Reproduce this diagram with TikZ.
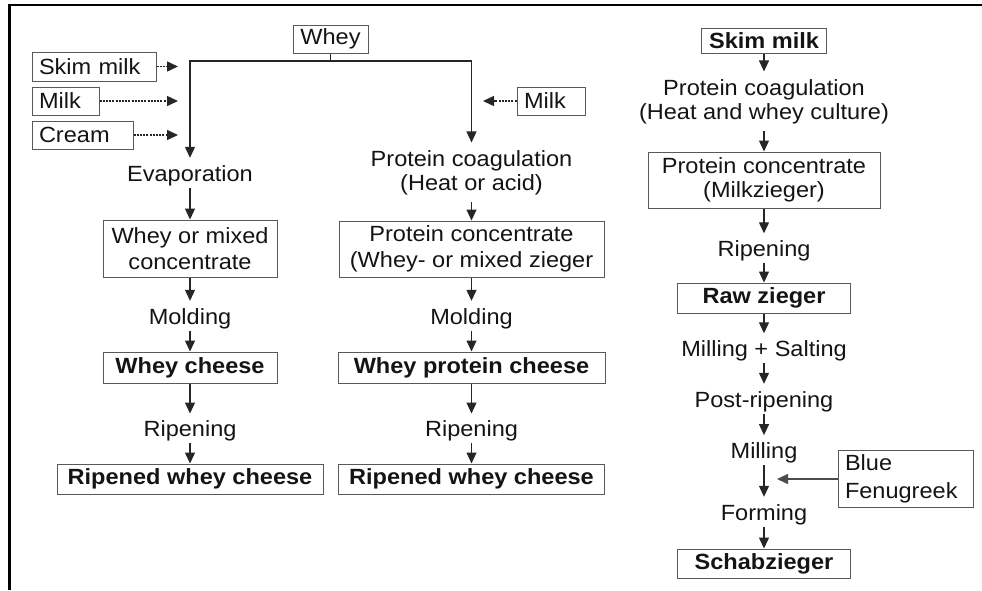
\documentclass[tikz,border=0pt]{standalone}
\usepackage{fontspec}
\setmainfont{Liberation Sans}[FakeStretch=1.07]
\usetikzlibrary{arrows.meta}
\begin{document}
\begin{tikzpicture}[x=1pt,y=-1pt,
  font=\fontsize{22}{24}\selectfont, text=black!92,
  lbl/.style={inner sep=0pt, text height=23pt, text depth=6.5pt, anchor=base},
  lbltwo/.style={inner xsep=0pt, inner ysep=7.5pt, align=center},
  box/.style={draw=black!65, line width=1pt, inner sep=0pt, align=center, font=\fontsize{22}{25.5}\selectfont},
  bbox/.style={box, font=\fontsize{22}{24}\selectfont\bfseries},
  inbox/.style={draw=black!65, line width=1pt, inner xsep=7pt, inner ysep=0pt, align=left},
  arr/.style={draw=black!85, line width=1.2pt, -{Triangle[length=11pt,width=10pt]}},
  darr/.style={arr, line width=1.5pt, dash pattern=on 2pt off 1.2pt}]
\useasboundingbox (0,0) rectangle (982,590);
% frame
\draw[line width=2.3pt] (9.5,590) -- (9.5,5) -- (982,5);

% top
\node[box, minimum width=75pt, minimum height=28pt] (whey) at (330.5,39) {Whey};
\coordinate (split) at (330.5,61);

% inputs
\node[inbox, text width=110pt, minimum height=29pt] (skim1) at (94,66.5) {Skim milk};
\node[inbox, text width=53pt, minimum height=28pt] (milk1) at (65.5,101) {Milk};
\node[inbox, text width=87pt, minimum height=28pt] (cream) at (82.5,135) {Cream};
\node[inbox, text width=54pt, minimum height=28pt] (milk2) at (551,101) {Milk};
\coordinate (s1) at (178,66.5);
\coordinate (s2) at (178,101);
\coordinate (s3) at (178,135);
\coordinate (s4) at (483,101);

% left column
\node[lbl] (evap) at (190,181) {Evaporation};
\node[box, minimum width=174pt, minimum height=57pt] (conc1) at (190,248.5) {Whey or mixed\\concentrate};
\node[lbl] (mold1) at (190,324) {Molding};
\node[bbox, minimum width=174pt, minimum height=31pt] (wc) at (190,367.5) {Whey cheese};
\node[lbl] (rip1) at (190,436.7) {Ripening};
\node[bbox, minimum width=266pt, minimum height=30pt] (rwc1) at (190,479) {Ripened whey cheese};

% middle column
\node[lbltwo] (pc1) at (471.5,172.4) {Protein coagulation\\(Heat or acid)};
\node[box, minimum width=265pt, minimum height=56pt] (conc2) at (471.5,249) {Protein concentrate\\(Whey- or mixed zieger};
\node[lbl] (mold2) at (471.5,324) {Molding};
\node[bbox, minimum width=267pt, minimum height=31pt] (wpc) at (471.5,367.5) {Whey protein cheese};
\node[lbl] (rip2) at (471.5,436.7) {Ripening};
\node[bbox, minimum width=266pt, minimum height=30pt] (rwc2) at (471.5,479) {Ripened whey cheese};

% right column
\node[bbox, minimum width=125pt, minimum height=25pt] (skim2) at (764,40.5) {Skim milk};
\node[lbltwo] (pc2) at (764,101.4) {Protein coagulation\\(Heat and whey culture)};
\node[box, minimum width=232pt, minimum height=56pt, font=\fontsize{22}{23.7}\selectfont] (conc3) at (764,180) {Protein concentrate\\(Milkzieger)};
\node[lbl] (rip3) at (764,256.5) {Ripening};
\node[bbox, minimum width=173pt, minimum height=30pt] (raw) at (764,298) {Raw zieger};
\node[lbl] (mills) at (764,356.5) {Milling + Salting};
\node[lbl] (post) at (764,407) {Post-ripening};
\node[lbl] (mill) at (764,458.3) {Milling};
\node[lbl] (form) at (764,520) {Forming};
\node[bbox, minimum width=173pt, minimum height=29pt] (schab) at (764,563.5) {Schabzieger};
\node[inbox, text width=121pt, minimum height=56.5pt, font=\fontsize{22}{27.5}\selectfont] (blue) at (905.5,479) {Blue\\Fenugreek};
\coordinate (b1) at (777,479);

% connectors
\draw[arr] (whey.south) -- (split) -| (evap.north);
\draw[arr] (split) -| (pc1.north);
\draw[darr] (skim1.east) -- (s1);
\draw[darr] (milk1.east) -- (s2);
\draw[darr] (cream.east) -- (s3);
\draw[darr] (milk2.west) -- (s4);

\draw[arr] (evap.south) -- (conc1.north);
\draw[arr] (conc1.south) -- (mold1.north);
\draw[arr] (mold1.south) -- (wc.north);
\draw[arr] (wc.south) -- (rip1.north);
\draw[arr] (rip1.south) -- (rwc1.north);

\draw[arr] (pc1.south) -- (conc2.north);
\draw[arr] (conc2.south) -- (mold2.north);
\draw[arr] (mold2.south) -- (wpc.north);
\draw[arr] (wpc.south) -- (rip2.north);
\draw[arr] (rip2.south) -- (rwc2.north);

\draw[arr] (skim2.south) -- (pc2.north);
\draw[arr] (pc2.south) -- (conc3.north);
\draw[arr] (conc3.south) -- (rip3.north);
\draw[arr] (rip3.south) -- (raw.north);
\draw[arr] (raw.south) -- (mills.north);
\draw[arr] (mills.south) -- (post.north);
\draw[arr] (post.south) -- (mill.north);
\draw[arr] (mill.south) -- (form.north);
\draw[arr] (form.south) -- (schab.north);
\draw[arr, draw=black!70] (blue.west) -- (b1);
\end{tikzpicture}
\end{document}
